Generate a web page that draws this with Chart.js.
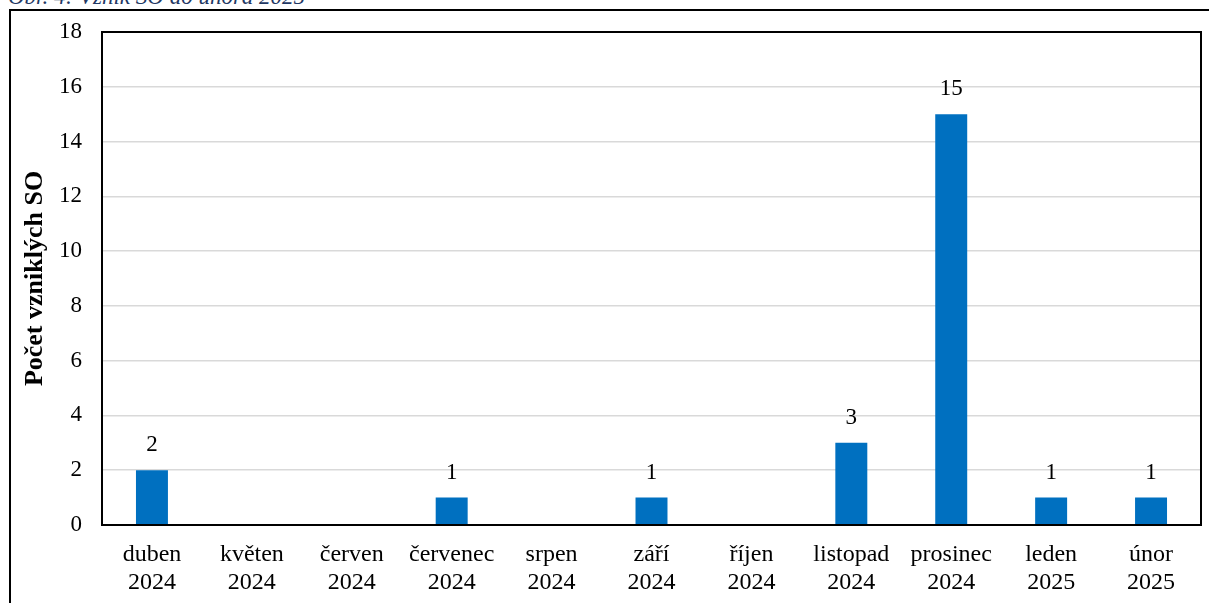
<!DOCTYPE html>
<html>
<head>
<meta charset="utf-8">
<script src="https://cdn.jsdelivr.net/npm/chart.js@4"></script>
<style>
  html, body { margin: 0; padding: 0; background: #fff; overflow: hidden; }
  #wrap { position: relative; width: 1209px; height: 603px; }
  #frame { position: absolute; left: 9px; top: 9px; width: 1300px; height: 700px;
           border-left: 2px solid #000; border-top: 2px solid #000; }
  #title { position: absolute; left: 8px; top: -16px; font-family: "Liberation Serif", serif;
           font-style: italic; font-size: 23px; color: #1F3864; white-space: nowrap; }
  #c { position: absolute; left: 0; top: 0; }
</style>
</head>
<body>
<div id="wrap">
  <div id="frame"></div>
  <div id="title">Obr. 4: Vznik SO do února 2025</div>
  <canvas id="c" width="1209" height="603"></canvas>
</div>
<script>
const categories = [
  ["duben","2024"],["květen","2024"],["červen","2024"],["červenec","2024"],
  ["srpen","2024"],["září","2024"],["říjen","2024"],["listopad","2024"],
  ["prosinec","2024"],["leden","2025"],["únor","2025"]
];
const values = [2, 0, 0, 1, 0, 1, 0, 3, 15, 1, 1];
const yMin = 0, yMax = 18, yStep = 2;
const yTitle = "Počet vzniklých SO";

const serif = '"Liberation Serif", "Times New Roman", serif';

const framePlugin = {
  id: 'frame',
  afterDraw(chart) {
    const a = chart.chartArea, ctx = chart.ctx;
    ctx.save();
    ctx.strokeStyle = '#000';
    ctx.lineWidth = 2;
    ctx.strokeRect(a.left, a.top, a.right - a.left, a.bottom - a.top);
    ctx.restore();
  }
};

const labelPlugin = {
  id: 'valueLabels',
  afterDatasetsDraw(chart) {
    const ctx = chart.ctx;
    const meta = chart.getDatasetMeta(0);
    ctx.save();
    ctx.font = '23px ' + serif;
    ctx.fillStyle = '#000';
    ctx.textAlign = 'center';
    ctx.textBaseline = 'middle';
    meta.data.forEach((bar, i) => {
      const v = values[i];
      if (!v) return;
      ctx.fillText(String(v), bar.x, bar.y - 25);
    });
    ctx.restore();
  }
};

new Chart(document.getElementById('c'), {
  type: 'bar',
  data: {
    labels: categories,
    datasets: [{
      data: values,
      backgroundColor: '#0070C0',
      borderWidth: 0,
      barPercentage: 0.32,
      categoryPercentage: 1.0
    }]
  },
  options: {
    responsive: false,
    animation: false,
    devicePixelRatio: 1,
    layout: { padding: { left: 20, right: 8, top: 32, bottom: 0 } },
    plugins: { legend: { display: false }, tooltip: { enabled: false } },
    scales: {
      x: {
        grid: { display: false },
        border: { display: true, color: '#000', width: 2 },
        ticks: { color: '#000', font: { family: serif, size: 24, lineHeight: 1.2 }, padding: 7, maxRotation: 0, autoSkip: false },
        afterFit(s) { s.height = 78; }
      },
      y: {
        min: yMin, max: yMax,
        ticks: { stepSize: yStep, color: '#000', font: { family: serif, size: 23, lineHeight: 1 }, padding: 20 },
        grid: { color: '#d9d9d9', lineWidth: 1.5, tickLength: 0, drawTicks: false },
        border: { display: true, color: '#000', width: 2 },
        title: { display: true, text: yTitle, color: '#000', font: { family: serif, size: 26, weight: 'bold' }, padding: { top: 0, bottom: 0 } },
        afterFit(s) { s.width = 82; }
      }
    }
  },
  plugins: [framePlugin, labelPlugin]
});
</script>
</body>
</html>
